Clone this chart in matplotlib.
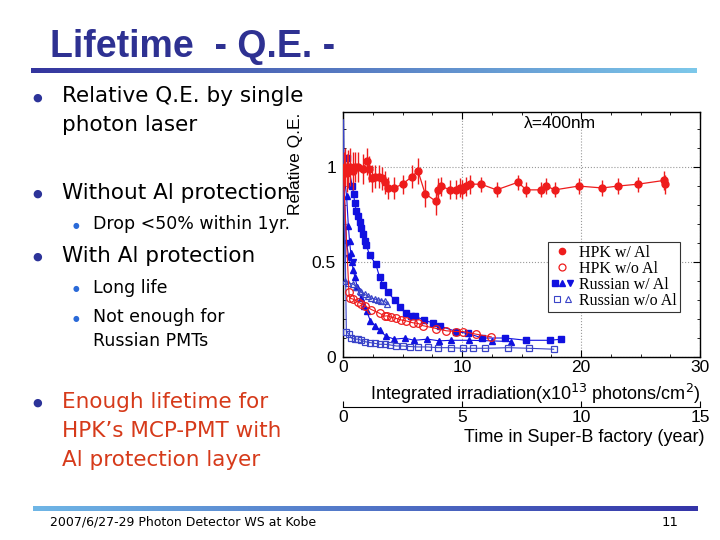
import numpy as np
import matplotlib
matplotlib.use("Agg")
import matplotlib.pyplot as plt
from matplotlib.legend_handler import HandlerTuple
from matplotlib.lines import Line2D

# ---------------- data ----------------
hpk_al_x = [0.05,0.15,0.3,0.45,0.6,0.8,1.0,1.3,1.7,2.0,2.2,2.4,2.7,3.0,3.3,3.5,3.8,4.3,5.0,5.8,
            6.3,6.9,7.8,8.0,8.2,9.0,9.5,9.8,10.0,10.3,10.7,11.6,12.9,14.7,15.4,16.6,17.1,17.8,19.8,21.8,
            23.1,24.8,27.0,27.1]
hpk_al_y = [0.98,1.0,0.97,0.99,1.0,0.98,1.0,1.0,0.99,1.03,0.99,0.94,0.95,0.95,0.94,0.92,0.89,0.89,0.91,0.95,
            0.98,0.86,0.82,0.88,0.90,0.88,0.88,0.89,0.88,0.90,0.91,0.91,0.88,0.92,0.88,0.88,0.90,0.88,0.90,0.89,
            0.90,0.91,0.93,0.91]
hpk_al_err = [0.1,0.1,0.1,0.1,0.1,0.1,0.08,0.08,0.08,0.07,0.07,0.07,0.06,0.06,0.06,0.06,0.06,0.06,0.05,0.06,
              0.07,0.07,0.07,0.06,0.05,0.05,0.05,0.05,0.05,0.05,0.05,0.04,0.04,0.04,0.04,0.04,0.04,0.04,0.04,0.04,
              0.04,0.04,0.05,0.05]

hpk_noal_x = [0.0,0.5,0.56,0.84,1.26,1.54,1.82,2.38,3.08,3.5,3.7,4.06,4.48,4.9,5.32,5.88,6.3,6.72,7.84,8.68,9.52,10.08,11.2,12.46]
hpk_noal_y = [1.0,0.34,0.31,0.305,0.29,0.28,0.27,0.25,0.23,0.215,0.217,0.21,0.203,0.195,0.19,0.18,0.177,0.165,0.15,0.138,0.134,0.134,0.12,0.106]

rus_al_sq_x = [0.0,0.3,0.78,0.90,0.98,1.12,1.26,1.40,1.54,1.68,1.82,1.96,2.24,2.75,3.08,3.36,3.78,4.34,4.76,5.27,5.74,6.02,6.78,7.56,8.12,9.52,10.5,11.7,13.6,15.4,17.4,18.35]
rus_al_sq_y = [1.0,1.05,0.90,0.86,0.81,0.77,0.74,0.71,0.68,0.65,0.61,0.59,0.535,0.49,0.42,0.38,0.34,0.30,0.265,0.23,0.217,0.217,0.194,0.18,0.164,0.134,0.124,0.10,0.10,0.088,0.088,0.094]

rus_al_tri_x = [0.0,0.3,0.45,0.55,0.65,0.75,0.85,1.0,1.2,1.5,1.8,2.0,2.3,2.7,3.1,3.6,4.3,5.2,6.0,7.1,8.1,9.1,10.6,12.5,14.1]
rus_al_tri_y = [1.0,0.85,0.69,0.61,0.55,0.50,0.46,0.42,0.37,0.31,0.27,0.24,0.19,0.165,0.14,0.11,0.094,0.099,0.088,0.094,0.085,0.088,0.088,0.085,0.081]

rus_al_dtri_x = [0.0,0.3,0.5,0.8]
rus_al_dtri_y = [1.0,0.60,0.52,0.50]

rus_noal_sq_x = [0.0,0.05,0.28,0.5,0.7,1.0,1.26,1.54,1.82,2.24,2.66,3.08,3.5,3.92,4.48,5.04,5.6,6.3,7.14,7.98,9.1,10.1,10.9,11.9,13.9,15.6,17.7]
rus_noal_sq_y = [1.0,1.25,0.134,0.12,0.10,0.094,0.094,0.088,0.081,0.076,0.072,0.067,0.067,0.064,0.058,0.058,0.055,0.053,0.053,0.049,0.049,0.046,0.046,0.046,0.049,0.046,0.041]

rus_noal_tri_x = [0.0,0.2,0.42,0.84,1.1,1.4,1.54,1.82,2.1,2.38,2.66,2.94,3.22,3.5,3.7]
rus_noal_tri_y = [1.0,0.40,0.39,0.385,0.37,0.35,0.34,0.33,0.32,0.31,0.305,0.30,0.297,0.293,0.28]

legend_labels = ["HPK w/ Al", "HPK w/o Al", "Russian w/ Al", "Russian w/o Al"]
x_ticks = [0, 10, 20, 30]
y_ticks = [0, 0.5, 1]
y_tick_labels = ["0", "0.5", "1"]
year_ticks = [0, 5, 10, 15]

RED = "#ee1c1c"
BLUE = "#1010e0"
BLUE2 = "#3a44c8"
NAVY = "#2e3192"
ORANGE = "#d63a1a"

fig = plt.figure(figsize=(7.2, 5.4), dpi=100)
fig.patch.set_facecolor("white")

def fx(px):
    return px / 720.0

def fy(py):
    return 1 - py / 540.0

# ---------- gradient bars ----------
def grad_bar(x0, x1, yc, h, c0, c1):
    axg = fig.add_axes([fx(x0), fy(yc + h / 2), fx(x1 - x0), h / 540.0])
    c0 = np.array(matplotlib.colors.to_rgb(c0))
    c1 = np.array(matplotlib.colors.to_rgb(c1))
    t = np.linspace(0, 1, 256)[None, :, None]
    img = c0[None, None, :] * (1 - t) + c1[None, None, :] * t
    axg.imshow(img, aspect="auto", extent=[0, 1, 0, 1])
    axg.set_axis_off()

grad_bar(31, 697, 71, 5, "#34359e", "#7dc8ea")
grad_bar(33, 698, 508, 5, "#6fb6e6", "#3434a8")

# ---------- title & text ----------
fig.text(fx(50), fy(47), "Lifetime  - Q.E. -", fontsize=27, fontweight="bold",
         color=NAVY, va="center", ha="left", family="Liberation Sans")

main_fs = 15.5
sub_fs = 12.5
tf = "DejaVu Sans"

def bullet(px, py, size, color):
    fig.text(fx(px), fy(py), "\u25cf", fontsize=size, color=color, va="center", ha="center", family="DejaVu Sans")

bullet(37, 98, 8, "#2c3399")
fig.text(fx(62), fy(96), "Relative Q.E. by single", fontsize=main_fs, va="center", family=tf)
fig.text(fx(62), fy(125), "photon laser", fontsize=main_fs, va="center", family=tf)
bullet(37, 194, 8, "#2c3399")
fig.text(fx(62), fy(193), "Without Al protection", fontsize=main_fs, va="center", family=tf)
bullet(76, 225, 5.5, "#2a6ad8")
fig.text(fx(93), fy(224), "Drop <50% within 1yr.", fontsize=sub_fs, va="center", family=tf)
bullet(37, 257, 8, "#2c3399")
fig.text(fx(62), fy(256), "With Al protection", fontsize=main_fs, va="center", family=tf)
bullet(76, 289, 5.5, "#2a6ad8")
fig.text(fx(93), fy(288), "Long life", fontsize=sub_fs, va="center", family=tf)
bullet(76, 318, 5.5, "#2a6ad8")
fig.text(fx(93), fy(317), "Not enough for", fontsize=sub_fs, va="center", family=tf)
fig.text(fx(93), fy(341), "Russian PMTs", fontsize=sub_fs, va="center", family=tf)
bullet(37, 403, 8, "#2c3399")
fig.text(fx(62), fy(402), "Enough lifetime for", fontsize=main_fs, va="center", color=ORANGE, family=tf)
fig.text(fx(62), fy(431), "HPK\u2019s MCP-PMT with", fontsize=main_fs, va="center", color=ORANGE, family=tf)
fig.text(fx(62), fy(460), "Al protection layer", fontsize=main_fs, va="center", color=ORANGE, family=tf)

fig.text(fx(50), fy(522), "2007/6/27-29 Photon Detector WS at Kobe", fontsize=9, va="center", family=tf)
fig.text(fx(670), fy(523), "11", fontsize=9.5, va="center", ha="center", family=tf)

# ---------- chart ----------
pf = "Liberation Sans"
ax = fig.add_axes([fx(343), fy(357), fx(700 - 343), (357 - 112) / 540.0])
ax.set_xlim(0, 30)
ax.set_ylim(0, 1.29)

ax.errorbar(hpk_al_x, hpk_al_y, yerr=hpk_al_err, fmt="o-", color=RED, ms=5, lw=0.9,
            elinewidth=1.0, capsize=0, zorder=5)
h_hpk_al = Line2D([], [], marker="o", color=RED, ls="none", ms=4.5)
ax.plot(hpk_noal_x, hpk_noal_y, "o-", color=RED, mfc="none", ms=5.5, lw=0.8, mew=0.9, zorder=4,
        markevery=list(range(1, len(hpk_noal_x))))
h_hpk_noal = Line2D([], [], marker="o", color=RED, mfc="none", ls="none", ms=5, mew=0.9)
ax.plot(rus_al_sq_x, rus_al_sq_y, "s-", color=BLUE, ms=5, lw=0.8, zorder=3,
        markevery=list(range(1, len(rus_al_sq_x))))
ax.plot(rus_al_tri_x, rus_al_tri_y, "^-", color=BLUE, ms=5, lw=0.8, zorder=3,
        markevery=list(range(1, len(rus_al_tri_x))))
ax.plot(rus_al_dtri_x, rus_al_dtri_y, "v-", color=BLUE, ms=5, lw=0.8, zorder=3,
        markevery=list(range(1, len(rus_al_dtri_x))))
ax.plot(rus_noal_sq_x, rus_noal_sq_y, "s-", color=BLUE2, mfc="none", ms=5, lw=0.8, mew=0.9, zorder=3,
        markevery=list(range(2, len(rus_noal_sq_x))))
ax.plot(rus_noal_tri_x, rus_noal_tri_y, "^-", color=BLUE2, mfc="none", ms=5, lw=0.8, mew=0.9, zorder=3,
        markevery=list(range(1, len(rus_noal_tri_x))))

h_sq = Line2D([], [], marker="s", color=BLUE, ls="none", ms=4.5)
h_tu = Line2D([], [], marker="^", color=BLUE, ls="none", ms=4.5)
h_td = Line2D([], [], marker="v", color=BLUE, ls="none", ms=4.5)
h_osq = Line2D([], [], marker="s", color=BLUE2, mfc="none", ls="none", ms=4.5, mew=0.8)
h_otr = Line2D([], [], marker="^", color=BLUE2, mfc="none", ls="none", ms=4.5, mew=0.8)

leg = ax.legend([h_hpk_al, h_hpk_noal, (h_sq, h_tu, h_td), (h_osq, h_otr)], legend_labels,
                handler_map={tuple: HandlerTuple(ndivide=None, pad=0.05)},
                loc="upper left", bbox_to_anchor=(0.574, 0.47), frameon=True, fancybox=False,
                edgecolor="#333333", prop={"family": "Liberation Serif", "size": 11.5},
                handlelength=1.4, handletextpad=0.35, labelspacing=0.0, borderpad=0.2,
                borderaxespad=0.0, framealpha=1)
leg.get_frame().set_linewidth(0.8)

ax.text(0.608, 0.985, "\u03bb=400nm", transform=ax.transAxes, fontsize=12.5, family=pf, va="top", ha="center")

ax.set_xticks(x_ticks)
ax.set_yticks(y_ticks)
ax.set_yticklabels(y_tick_labels)
ax.set_xticks(np.arange(0, 31, 2.5), minor=True)
ax.set_yticks(np.arange(0, 1.3, 0.1), minor=True)
ax.tick_params(which="both", direction="in", top=True, right=True, labelsize=12.5)
ax.tick_params(axis="x", pad=2)
ax.tick_params(axis="y", pad=5)
ax.tick_params(which="major", length=5, width=0.8)
ax.tick_params(which="minor", length=2.5, width=0.6)
for lab in ax.get_xticklabels() + ax.get_yticklabels():
    lab.set_family(pf)
ax.grid(True, which="major", ls=":", color="#999999", lw=0.8)
for s in ax.spines.values():
    s.set_linewidth(1.0)
ax.set_ylabel("Relative Q.E.", fontsize=12.5, family=pf, labelpad=0)
ax.yaxis.set_label_coords(-0.112, 0.79)
ax.set_xlabel("Integrated irradiation(x10$^{13}$ photons/cm$^{2}$)", fontsize=13, family=pf, labelpad=3)
ax.xaxis.set_label_coords(0.538, -0.1)

sec = ax.secondary_xaxis(-0.204, functions=(lambda x: x / 2.0, lambda x: x * 2.0))
sec.set_xticks(year_ticks)
sec.tick_params(direction="in", labelsize=12.5, pad=2, length=4)
for lab in sec.get_xticklabels():
    lab.set_family(pf)
fig.text(fx(705), fy(438), "Time in Super-B factory (year)", fontsize=13, family=pf,
         ha="right", va="center")

fig.savefig("out.png", dpi=100)
